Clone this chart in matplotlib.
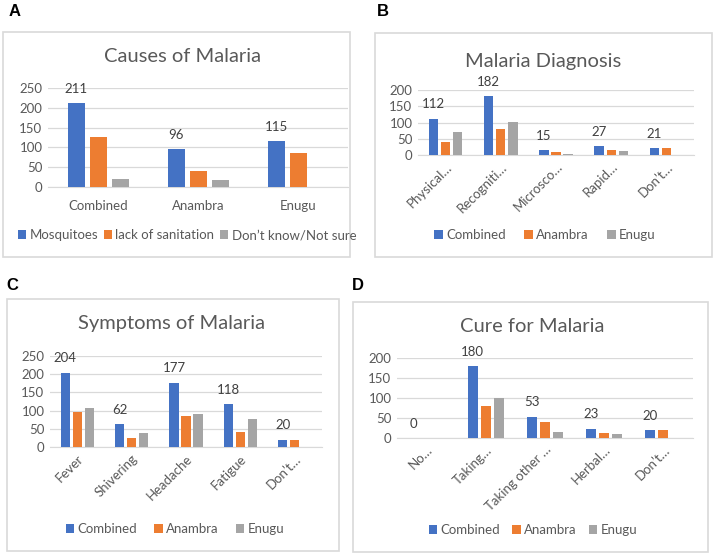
import numpy as np
import matplotlib
matplotlib.use("Agg")
import matplotlib.pyplot as plt
from matplotlib.patches import Rectangle

plt.rcParams['font.family'] = ['Lato', 'DejaVu Sans']

W, H = 715, 556
BLUE, ORANGE, GRAY = '#4472C4', '#ED7D31', '#A5A5A5'
TXT = '#595959'
GRID = '#D9D9D9'

# A - causes
causes_cats = ['Combined', 'Anambra', 'Enugu']
causes_mosq = [211, 96, 115]
causes_sanit = [127, 40, 87]
causes_dk = [19, 18, 0]
causes_series = ['Mosquitoes', 'lack of sanitation', 'Don’t know/Not sure']

# B - diagnosis
diag_cats = ['Physical…', 'Recogniti…', 'Microsco…', 'Rapid…', 'Don’t…']
diag_comb = [112, 182, 15, 27, 21]
diag_anam = [39, 81, 10, 15, 21]
diag_enug = [72, 101, 4, 11, 0]

# C - symptoms
symp_cats = ['Fever', 'Shivering', 'Headache', 'Fatigue', 'Don’t…']
symp_comb = [204, 62, 177, 118, 20]
symp_anam = [96, 24, 85, 42, 20]
symp_enug = [108, 38, 92, 76, 0]

# D - cure
cure_cats = ['No…', 'Taking…', 'Taking other …', 'Herbal…', 'Don’t…']
cure_comb = [0, 180, 53, 23, 20]
cure_anam = [0, 79, 39, 13, 20]
cure_enug = [0, 101, 14, 10, 0]

region_series = ['Combined', 'Anambra', 'Enugu']

fig = plt.figure(figsize=(W / 100, H / 100), dpi=100)


def fx(x):
    return x / W


def fy(y):
    return 1 - y / H


def box(x0, y0, x1, y1):
    fig.patches.append(Rectangle((fx(x0), fy(y1)), fx(x1 - x0), (y1 - y0) / H,
                                 transform=fig.transFigure, fill=False,
                                 edgecolor=GRID, linewidth=1.2))


def panel(rect, cats, vals, names, ymax, title, title_xy, leg_xy, rotate, colsp):
    x0, x1, yzero, ytop = rect
    ax = fig.add_axes([fx(x0), fy(yzero), (x1 - x0) / W, (yzero - ytop) / H])
    x = np.arange(len(cats))
    w, pitch = 0.17, 0.22
    bars = []
    for i, (v, c) in enumerate(zip(vals, [BLUE, ORANGE, GRAY])):
        b = ax.bar(x + (i - 1) * pitch, v, w, color=c, label=names[i], zorder=3)
        bars.append(b)
    for xi, v in zip(x, vals[0]):
        ax.annotate(str(v), (xi - pitch, v), xytext=(0, 6), textcoords='offset points',
                    ha='center', va='bottom', fontsize=9.5, color='#404040')
    ax.set_xlim(-0.5, len(cats) - 0.5)
    ax.set_ylim(0, ymax)
    ax.set_yticks(np.arange(0, ymax + 1, 50))
    ax.grid(axis='y', color=GRID, linewidth=0.9, zorder=0)
    for s in ['top', 'right', 'left']:
        ax.spines[s].set_visible(False)
    ax.spines['bottom'].set_color(GRID)
    ax.tick_params(length=0, labelsize=9.5, colors=TXT, pad=4)
    ax.set_xticks(x)
    if rotate:
        ax.set_xticklabels(cats, rotation=45, ha='right', rotation_mode='anchor')
    else:
        ax.set_xticklabels(cats)
        ax.tick_params(axis='x', pad=9)
    fig.text(fx(title_xy[0]), fy(title_xy[1]), title, ha='center', va='center',
             fontsize=14.5, color=TXT)
    fig.legend(handles=bars, labels=names, loc='center', ncol=3, frameon=False,
               bbox_to_anchor=(fx(leg_xy[0]), fy(leg_xy[1])), fontsize=9.5,
               handlelength=0.65, handleheight=0.65, handletextpad=0.25,
               columnspacing=colsp, labelcolor=TXT)
    return ax


box(3, 32, 350, 257)
box(375, 33, 712, 257)
box(7, 299, 339, 551)
box(353, 302, 708, 552)

panel((48, 348, 187, 88), causes_cats, [causes_mosq, causes_sanit, causes_dk],
      causes_series, 250, 'Causes of Malaria', (183, 57), (187, 235), False, 0.4)
panel((418, 694, 155, 90), diag_cats, [diag_comb, diag_anam, diag_enug],
      region_series, 200, 'Malaria Diagnosis', (543, 61), (545, 235), True, 1.4)
panel((50, 322, 447, 356), symp_cats, [symp_comb, symp_anam, symp_enug],
      region_series, 250, 'Symptoms of Malaria', (172, 324), (175, 529), True, 1.3)
panel((397, 693, 438, 358), cure_cats, [cure_comb, cure_anam, cure_enug],
      region_series, 200, 'Cure for Malaria', (532, 327), (533, 530), True, 0.9)

for lab, (x, y) in zip('ABCD', [(15, 12), (383, 12), (12, 285), (358, 285)]):
    fig.text(fx(x), fy(y), lab, ha='center', va='center', fontsize=12,
             fontweight='bold', family='Liberation Sans')

fig.savefig('out.png', dpi=100)
